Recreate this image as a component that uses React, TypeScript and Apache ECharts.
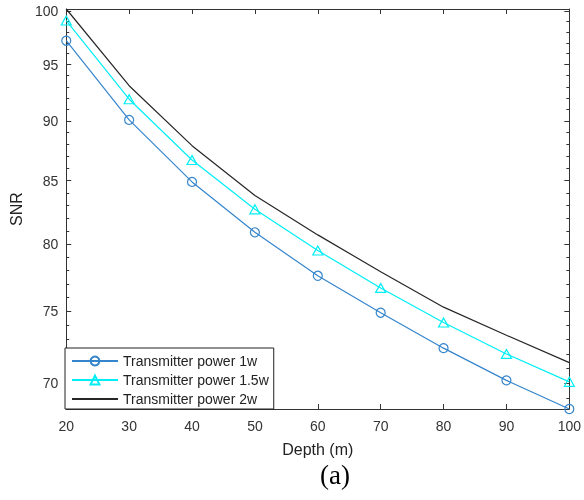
import React, { useEffect, useRef } from 'react';
import * as echarts from 'echarts';

const depth = [20, 30, 40, 50, 60, 70, 80, 90, 100];
const snr1w = [97.2, 90.1, 84.9, 80.9, 77.6, 74.9, 72.4, 70.2, 68.3];
const snr15w = [99.1, 91.9, 86.7, 82.7, 79.5, 76.7, 74.2, 72.0, 70.1];
const snr2w = [100.2, 93.1, 87.9, 83.8, 80.7, 77.9, 75.3, 73.3, 71.4];

const seriesNames = ['Transmitter power 1w', 'Transmitter power 1.5w', 'Transmitter power 2w'];
const yMajorTicks = [70, 75, 80, 85, 90, 95, 100];
const yMinorTicks = [69, 70, 71, 72, 73, 74, 75, 76, 77, 78, 79, 80, 81, 82, 83, 84, 85, 86, 87, 88, 89, 90, 91, 92, 93, 94, 95, 96, 97, 98, 99, 100];

export default function App() {
  const ref = useRef<HTMLDivElement>(null);
  useEffect(() => {
    const chart = echarts.init(ref.current as HTMLDivElement, null, { renderer: 'svg' });
    const font = 'Liberation Sans, Arial, sans-serif';
    const axisColor = '#333333';
    const blue = '#3585cc';
    const cyan = '#00eef6';
    const black = '#262626';
    const yMin = 68.3;
    const yMax = 100.2;
    const yBase: any = {
      type: 'log',
      logBase: 10,
      min: yMin,
      max: yMax,
      splitLine: { show: false },
    };
    const mk = (vals: number[]) => depth.map((d, i) => [d, vals[i]]);
    chart.setOption({
      animation: false,
      grid: { left: 65, top: 9, right: 13, bottom: 91, containLabel: false },
      legend: {
        orient: 'vertical',
        left: 65,
        top: 348,
        padding: [6, 5, 3, 6],
        itemWidth: 46,
        itemHeight: 11,
        itemGap: 5,
        backgroundColor: '#ffffff',
        borderColor: '#222222',
        borderWidth: 1,
        borderRadius: 0,
        textStyle: { fontFamily: font, fontSize: 14, color: '#222222', lineHeight: 14 },
        data: seriesNames,
      },
      xAxis: [
        {
          type: 'value',
          position: 'bottom',
          min: 20,
          max: 100,
          interval: 10,
          splitLine: { show: false },
          axisLine: { show: true, lineStyle: { color: axisColor, width: 1 } },
          axisTick: { show: true, inside: true, length: 5, lineStyle: { color: axisColor } },
          axisLabel: { color: axisColor, fontFamily: font, fontSize: 14, margin: 10 },
          name: 'Depth (m)',
          nameLocation: 'middle',
          nameGap: 32,
          nameTextStyle: { fontFamily: font, fontSize: 16, color: '#222222' },
        },
        {
          type: 'value',
          position: 'top',
          min: 20,
          max: 100,
          interval: 10,
          splitLine: { show: false },
          axisLine: { show: true, lineStyle: { color: axisColor, width: 1 } },
          axisTick: { show: true, inside: true, length: 5, lineStyle: { color: axisColor } },
          axisLabel: { show: false },
        },
      ],
      yAxis: [
        {
          ...yBase,
          position: 'left',
          axisLine: { show: true, lineStyle: { color: axisColor, width: 1 } },
          axisTick: { show: true, inside: true, length: 5, customValues: yMajorTicks, lineStyle: { color: axisColor } },
          axisLabel: { show: true, customValues: yMajorTicks, color: axisColor, fontFamily: font, fontSize: 14, margin: 8, formatter: (v: number) => String(Math.round(v)) },
          name: 'SNR',
          nameLocation: 'middle',
          nameGap: 42,
          nameRotate: 90,
          nameTextStyle: { fontFamily: font, fontSize: 16, color: '#222222' },
        },
        {
          ...yBase,
          position: 'left',
          axisLine: { show: false },
          axisTick: { show: true, inside: true, length: 3, customValues: yMinorTicks, lineStyle: { color: axisColor } },
          axisLabel: { show: false },
        },
        {
          ...yBase,
          position: 'right',
          axisLine: { show: true, lineStyle: { color: axisColor, width: 1 } },
          axisTick: { show: true, inside: true, length: 5, customValues: yMajorTicks, lineStyle: { color: axisColor } },
          axisLabel: { show: false },
        },
        {
          ...yBase,
          position: 'right',
          axisLine: { show: false },
          axisTick: { show: true, inside: true, length: 3, customValues: yMinorTicks, lineStyle: { color: axisColor } },
          axisLabel: { show: false },
        },
      ],
      series: [
        {
          name: seriesNames[0],
          type: 'line',
          xAxisIndex: 0,
          yAxisIndex: 0,
          data: mk(snr1w),
          symbol: 'circle',
          symbolSize: 9,
          clip: false,
          lineStyle: { color: blue, width: 1.2 },
          itemStyle: { color: 'rgba(0,0,0,0)', borderColor: blue, borderWidth: 1.2 },
        },
        {
          name: seriesNames[1],
          type: 'line',
          xAxisIndex: 0,
          yAxisIndex: 0,
          data: mk(snr15w),
          symbol: 'triangle',
          symbolSize: [10, 9],
          clip: false,
          lineStyle: { color: cyan, width: 1.2 },
          itemStyle: { color: 'rgba(0,0,0,0)', borderColor: cyan, borderWidth: 1.2 },
        },
        {
          name: seriesNames[2],
          type: 'line',
          xAxisIndex: 0,
          yAxisIndex: 0,
          data: mk(snr2w),
          symbol: 'circle',
          showSymbol: false,
          clip: false,
          lineStyle: { color: black, width: 1.2 },
          itemStyle: { color: 'rgba(0,0,0,0)', borderColor: 'rgba(0,0,0,0)', borderWidth: 0 },
        },
      ],
      graphic: [
        {
          type: 'text',
          x: 335,
          y: 475,
          style: {
            text: '(a)',
            fontFamily: 'Liberation Serif, Times New Roman, serif',
            fontSize: 27,
            fill: '#000000',
            align: 'center',
            verticalAlign: 'middle',
          },
        },
      ],
    });
    return () => chart.dispose();
  }, []);
  return <div ref={ref} style={{ position: 'fixed', left: 0, top: 0, width: 584, height: 500 }} />;
}
